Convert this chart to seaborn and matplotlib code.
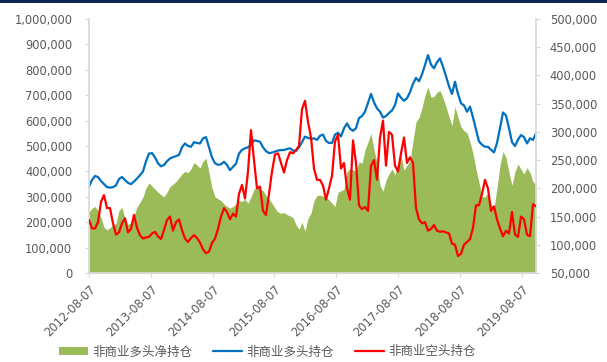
import numpy as np
import pandas as pd
import matplotlib
matplotlib.use("Agg")
import matplotlib.pyplot as plt
import matplotlib.patches as mpatches
import matplotlib.lines as mlines
from matplotlib.ticker import FuncFormatter, MultipleLocator
import seaborn as sns

# Non-commercial positions, values in thousands of contracts
start_date = "2012-08-07"
end_date = "2019-10-29"

net_long = [
    240, 255, 262, 245, 218, 180, 170, 178, 190, 195, 245, 258, 215, 190, 200, 225, 260, 278, 300, 335,
    355, 342, 330, 318, 308, 300, 318, 340, 350, 360, 375, 390, 400, 395, 410, 435, 425, 413, 440, 452,
    395, 335, 300, 292, 285, 272, 262, 255, 262, 272, 285, 282, 290, 275, 300, 330, 340, 330, 325, 305,
    290, 275, 255, 240, 235, 238, 230, 225, 218, 190, 172, 200, 165, 215, 235, 285, 305, 307, 302, 298,
    288, 275, 262, 318, 324, 330, 398, 412, 405, 402, 438, 432, 484, 515, 550, 485, 435, 346, 322, 365,
    390, 410, 386, 430, 460, 405, 425, 440, 520, 595, 612, 650, 700, 732, 692, 695, 712, 718, 690, 655,
    615, 580, 655, 612, 575, 560, 552, 517, 470, 410, 355, 300, 300, 315, 270, 258, 335, 425, 478, 455,
    395, 345, 399, 430, 408, 390, 415, 395, 360, 345,
]

long_pos = [
    340, 366, 382, 378, 362, 350, 338, 336, 338, 345, 370, 378, 366, 355, 350, 360, 372, 385, 400, 440,
    470, 472, 455, 432, 420, 425, 440, 451, 456, 460, 465, 495, 510, 500, 497, 515, 512, 510, 530, 535,
    495, 455, 432, 426, 428, 438, 425, 405, 418, 430, 470, 485, 491, 495, 505, 522, 520, 517, 495, 480,
    472, 474, 478, 482, 484, 484, 488, 491, 482, 480, 495, 515, 537, 532, 528, 530, 524, 540, 545, 520,
    512, 512, 545, 552, 538, 570, 589, 568, 560, 570, 610, 618, 635, 670, 705, 672, 648, 635, 612, 618,
    630, 640, 661, 707, 690, 678, 688, 712, 745, 768, 755, 782, 819, 858, 820, 806, 830, 845, 812, 775,
    735, 705, 753, 705, 668, 660, 635, 655, 612, 565, 518, 505, 497, 497, 485, 475, 512, 570, 632, 620,
    570, 515, 500, 525, 543, 535, 510, 530, 524, 550,
]

short_pos = [
    144, 129, 129, 140, 176, 188, 165, 165, 138, 118, 122, 138, 147, 122, 128, 153, 130, 117, 111, 113,
    114, 120, 123, 115, 110, 126, 144, 150, 125, 140, 145, 126, 111, 105, 112, 117, 112, 104, 92, 85,
    88, 103, 111, 128, 150, 165, 158, 145, 155, 150, 190, 206, 182, 230, 303, 250, 200, 203, 160, 153,
    190, 230, 260, 262, 245, 228, 250, 264, 262, 268, 275, 340, 355, 318, 290, 235, 215, 215, 205, 180,
    200, 222, 283, 295, 235, 245, 200, 180, 285, 245, 170, 163, 167, 160, 240, 250, 215, 290, 320, 240,
    300, 295, 240, 230, 262, 290, 245, 255, 245, 165, 145, 138, 140, 125, 128, 135, 125, 123, 124, 122,
    120, 102, 100, 80, 84, 100, 105, 110, 130, 170, 170, 190, 215, 200, 160, 168, 145, 129, 115, 125,
    120, 158, 118, 114, 150, 145, 118, 115, 172, 168,
]

tick_labels = ["2012-08-07", "2013-08-07", "2014-08-07", "2015-08-07",
               "2016-08-07", "2017-08-07", "2018-08-07", "2019-08-07"]

legend_labels = ["非商业多头净持仓", "非商业多头持仓", "非商业空头持仓"]

dates = pd.date_range(start_date, end_date, periods=len(net_long))
df = pd.DataFrame({
    "date": dates,
    "net": np.array(net_long) * 1000,
    "long": np.array(long_pos) * 1000,
    "short": np.array(short_pos) * 1000,
})

sns.set_theme(style="white")
plt.rcParams["font.family"] = ["DejaVu Sans"]

GREEN = "#9BBB59"
BLUE = "#0070C0"
RED = "#FF0000"
GREY_TXT = "#595959"
GREY_AX = "#D9D9D9"

fig = plt.figure(figsize=(6.07, 3.62), dpi=100)
ax = fig.add_axes([89 / 607, 1 - 273 / 362, (536 - 89) / 607, (273 - 19) / 362])
ax2 = ax.twinx()

ax.fill_between(df["date"], 0, df["net"], color=GREEN, linewidth=0, zorder=1)
sns.lineplot(data=df, x="date", y="long", ax=ax, color=BLUE, linewidth=1.6, zorder=2)
sns.lineplot(data=df, x="date", y="short", ax=ax2, color=RED, linewidth=1.6, zorder=3)

ax.set_xlim(dates[0], dates[-1])
ax.set_ylim(0, 1_000_000)
ax2.set_ylim(50_000, 500_000)
ax.yaxis.set_major_locator(MultipleLocator(100_000))
ax2.yaxis.set_major_locator(MultipleLocator(50_000))
fmt = FuncFormatter(lambda v, p: f"{int(round(v)):,}")
ax.yaxis.set_major_formatter(fmt)
ax2.yaxis.set_major_formatter(fmt)

ax.set_xticks(pd.to_datetime(tick_labels))
ax.set_xticklabels(tick_labels, rotation=45, ha="right", rotation_mode="anchor")

for a in (ax, ax2):
    a.set_xlabel("")
    a.set_ylabel("")
    for s in a.spines.values():
        s.set_visible(False)
    a.grid(False)

ax.spines["left"].set_visible(True)
ax.spines["left"].set_color(GREY_AX)
ax.spines["bottom"].set_visible(True)
ax.spines["bottom"].set_color(GREY_AX)
ax2.spines["right"].set_visible(True)
ax2.spines["right"].set_color(GREY_AX)

ax.tick_params(axis="y", which="major", left=True, length=3, width=0.8, color=GREY_AX,
               labelsize=8.3, labelcolor=GREY_TXT, pad=9)
ax.tick_params(axis="x", which="major", bottom=True, length=3, width=0.8, color=GREY_AX,
               labelsize=8.3, labelcolor=GREY_TXT, pad=4)
ax2.tick_params(axis="y", which="major", right=True, length=3, width=0.8, color=GREY_AX,
                labelsize=8.3, labelcolor=GREY_TXT, pad=7)

handles = [
    mpatches.Patch(color=GREEN, linewidth=0),
    mlines.Line2D([], [], color=BLUE, linewidth=1.6),
    mlines.Line2D([], [], color=RED, linewidth=1.6),
]
leg = fig.legend(handles, legend_labels, loc="center", bbox_to_anchor=(267.5 / 607, 10 / 362),
                 ncol=3, frameon=False, handlelength=2.3, handleheight=0.55,
                 handletextpad=0.35, columnspacing=1.7,
                 prop={"family": ["Noto Sans CJK SC", "DejaVu Sans"], "size": 9})
for t in leg.get_texts():
    t.set_color(GREY_TXT)

# dark rule along the top edge
fig.add_artist(mpatches.Rectangle((0, 1 - 2.5 / 362), 1, 2.5 / 362, transform=fig.transFigure,
                                  color="#0F2350", linewidth=0))

fig.savefig("out.png", dpi=100)
